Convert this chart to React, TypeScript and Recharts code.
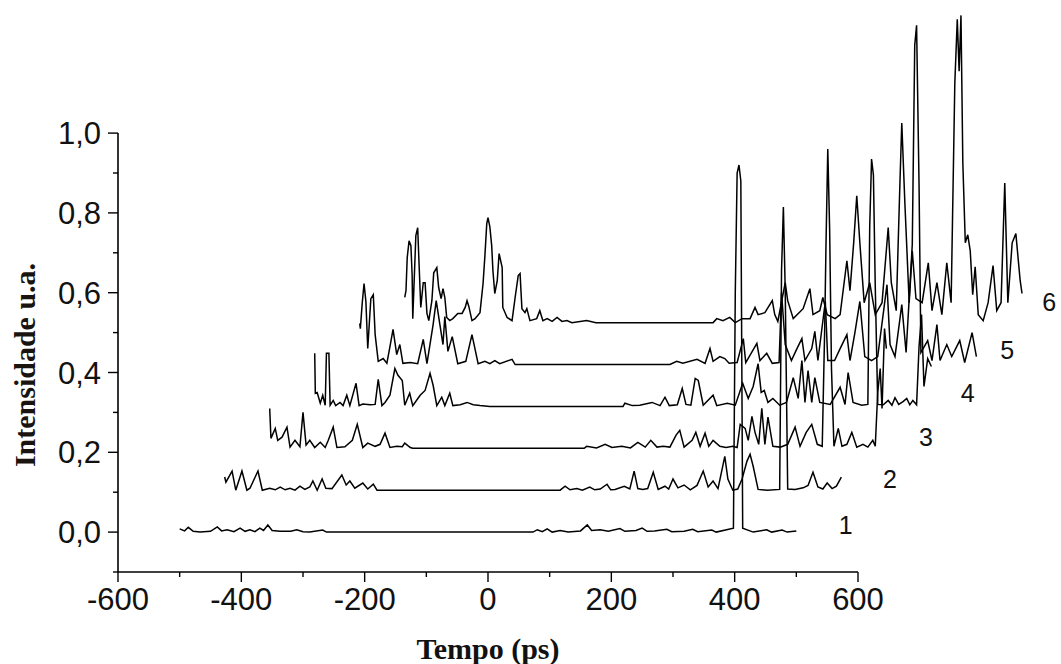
import React from "react";
import { LineChart, Line, XAxis, YAxis, ReferenceLine, ReferenceDot } from "recharts";

type Pt = [number, number];

// each trace: [time (ps), intensity] before the waterfall shift
const trace1: Pt[] = [
  [-500, 0.008], [-492, 0.003], [-486, 0.012], [-478, 0.002], [-467, 0], [-450, 0.002], [-439, 0.013],
  [-432, 0.003], [-423, 0.006], [-412, 0.001], [-402, 0.01], [-394, 0.002], [-386, 0.006], [-378, 0.001],
  [-370, 0.01], [-364, 0.004], [-357, 0.018], [-350, 0.004], [-337, 0.002], [-320, 0.002], [-310, 0.006],
  [-300, 0.001], [-289, 0], [-268, 0.005], [-262, 0], [73, 0], [80, 0.006], [88, 0.001], [96, 0.008],
  [104, 0], [117, 0.004], [130, 0], [150, 0.003], [161, 0.018], [168, 0.004], [182, 0.006], [195, 0.002],
  [214, 0.009], [222, 0.002], [240, 0.004], [250, 0.01], [258, 0.002], [270, 0.003], [290, 0.007],
  [298, 0.001], [318, 0.002], [332, 0.007], [340, 0.001], [363, 0.005], [370, 0], [398, 0.01], [401, 0.6],
  [404, 0.9], [407, 0.92], [410, 0.88], [413, 0.01], [430, 0], [452, 0.006], [460, 0], [477, 0.005],
  [485, 0], [500, 0.003],
];

const trace2: Pt[] = [
  [-500, 0.033], [-498, 0.02], [-488, 0.048], [-482, 0], [-472, 0.048], [-464, 0], [-459, 0.005],
  [-446, 0.048], [-439, 0], [-427, 0.005], [-418, 0.001], [-410, 0.008], [-402, 0.001], [-394, 0.005],
  [-386, 0], [-378, 0.01], [-370, 0.002], [-362, 0.008], [-357, 0.023], [-350, 0], [-342, 0.028],
  [-336, 0.005], [-326, 0.004], [-310, 0.038], [-303, 0.013], [-297, 0.023], [-289, 0.005], [-276, 0.018],
  [-268, 0.003], [-259, 0.015], [-253, 0], [44, 0], [52, 0.01], [60, 0.001], [71, 0.004], [80, 0],
  [92, 0.008], [100, 0.001], [109, 0.003], [120, 0.015], [126, 0.001], [133, 0.002], [148, 0.01],
  [157, 0.003], [164, 0.048], [170, 0.004], [178, 0.002], [186, 0.004], [195, 0.045], [203, 0.002],
  [214, 0.01], [220, 0.003], [227, 0.028], [235, 0.006], [245, 0.013], [255, 0.001], [266, 0.012],
  [276, 0.048], [284, 0.008], [292, 0.023], [300, 0.004], [311, 0.085], [316, 0.028], [324, 0],
  [332, 0.003], [339, 0.028], [347, 0.073], [352, 0.09], [357, 0.06], [365, 0.002], [380, 0], [400, 0.002],
  [403, 0.55], [406, 0.71], [409, 0.5], [413, 0.003], [425, 0.002], [438, 0.006], [446, 0.012],
  [454, 0.045], [462, 0.008], [470, 0.003], [477, 0.018], [485, 0.004], [492, 0.01], [500, 0.033],
];

const trace3: Pt[] = [
  [-500, 0.1], [-498, 0.025], [-491, 0.05], [-487, 0.02], [-480, 0.028], [-472, 0.053], [-467, 0.003],
  [-459, 0.02], [-451, 0.004], [-446, 0.09], [-441, 0.008], [-435, 0.02], [-427, 0.002], [-418, 0.015],
  [-410, 0.002], [-405, 0.02], [-397, 0.053], [-391, 0.002], [-378, 0.004], [-366, 0.02], [-358, 0.06],
  [-349, 0.002], [-341, 0.013], [-329, 0.005], [-321, 0.01], [-313, 0.038], [-305, 0.002], [-294, 0.005],
  [-285, 0.004], [-281, 0.013], [-272, 0.002], [-268, 0], [10, 0], [14, 0.005], [30, 0.001], [44, 0.01],
  [55, 0.002], [71, 0.005], [85, 0.001], [97, 0.015], [109, 0.003], [118, 0.02], [128, 0.003],
  [138, 0.005], [149, 0.003], [159, 0.033], [165, 0.045], [172, 0.003], [185, 0.02], [191, 0.04],
  [198, 0.005], [206, 0.038], [212, 0.005], [219, 0.02], [230, 0.005], [240, 0.002], [251, 0.005],
  [258, 0.002], [263, 0.06], [271, 0.05], [276, 0.02], [282, 0.08], [287, 0.04], [293, 0.01], [298, 0.1],
  [303, 0.01], [308, 0.078], [316, 0.005], [328, 0.003], [340, 0.01], [352, 0.053], [360, 0.005],
  [370, 0.04], [379, 0.06], [388, 0.01], [396, 0.005], [400, 0.3], [402, 0.5], [405, 0.75], [408, 0.55],
  [411, 0.2], [415, 0.005], [422, 0.05], [428, 0.005], [436, 0.01], [444, 0.04], [452, 0.003],
  [462, 0.01], [470, 0.003], [478, 0.02], [482, 0.005], [486, 0.14], [490, 0.2], [493, 0.1], [497, 0.3],
  [500, 0.25],
];

const trace4: Pt[] = [
  [-500, 0.133], [-499, 0.033], [-496, 0.035], [-491, 0.008], [-487, 0.028], [-483, 0.003], [-481, 0.133],
  [-477, 0.133], [-475, 0.003], [-470, 0.015], [-466, 0.002], [-459, 0.01], [-454, 0.002], [-448, 0.028],
  [-443, 0.002], [-433, 0.058], [-428, 0.002], [-422, 0.006], [-410, 0.004], [-402, 0.005], [-397, 0.068],
  [-391, 0.002], [-386, 0.01], [-378, 0.028], [-370, 0.095], [-365, 0.078], [-358, 0.065], [-354, 0.003],
  [-346, 0.033], [-341, 0.002], [-329, 0.028], [-321, 0.04], [-313, 0.083], [-308, 0.053], [-302, 0.002],
  [-294, 0.023], [-289, 0.002], [-281, 0.033], [-276, 0.002], [-264, 0.004], [-253, 0.01], [-243, 0.004],
  [-232, 0.002], [-216, 0], [0, 0], [3, 0.008], [15, 0.002], [27, 0.003], [47, 0.01], [60, 0.002],
  [68, 0.023], [75, 0.002], [88, 0.004], [96, 0.045], [102, 0.005], [110, 0.003], [117, 0.07],
  [122, 0.065], [130, 0.003], [146, 0.028], [152, 0.002], [169, 0.008], [182, 0.003], [194, 0.058],
  [203, 0.02], [211, 0.05], [219, 0.107], [224, 0.035], [229, 0.04], [235, 0.01], [243, 0.02],
  [254, 0.003], [265, 0.01], [276, 0.072], [284, 0.02], [290, 0.115], [295, 0.01], [300, 0.09],
  [306, 0.01], [311, 0.072], [319, 0.01], [336, 0.005], [352, 0.048], [360, 0.005], [365, 0.085],
  [373, 0.01], [387, 0.003], [397, 0.005], [400, 0.45], [403, 0.62], [406, 0.58], [409, 0.3], [413, 0.005],
  [422, 0.004], [430, 0.015], [436, 0.003], [441, 0.022], [447, 0.005], [454, 0.012], [460, 0.02],
  [465, 0.004], [470, 0.015], [476, 0.004], [480, 0.15], [484, 0.23], [488, 0.05], [494, 0.12], [500, 0.1],
];

const trace5: Pt[] = [
  [-500, 0.103], [-499, 0.09], [-496, 0.153], [-493, 0.203], [-490, 0.158], [-487, 0.04], [-482, 0.165],
  [-478, 0.175], [-475, 0.075], [-470, 0.008], [-462, 0.015], [-456, 0.003], [-451, 0.045], [-446, 0.088],
  [-440, 0.025], [-435, 0.05], [-430, 0.003], [-418, 0.005], [-406, 0.002], [-397, 0.063], [-391, 0.002],
  [-381, 0.1], [-376, 0.16], [-370, 0.1], [-365, 0.05], [-362, 0.12], [-357, 0.033], [-350, 0.07],
  [-341, 0.002], [-328, 0.008], [-318, 0.075], [-308, 0.002], [-297, 0.008], [-289, 0.002], [-281, 0.01],
  [-273, 0.002], [-253, 0.013], [-248, 0], [3, 0], [14, 0.008], [24, 0.003], [47, 0.013], [60, 0.003],
  [68, 0.04], [73, 0.008], [84, 0.02], [92, 0.015], [99, 0.003], [112, 0.005], [122, 0.065], [126, 0.005],
  [144, 0.053], [149, 0.01], [160, 0.028], [169, 0.003], [180, 0.005], [184, 0.18], [190, 0.05],
  [200, 0.01], [209, 0.04], [217, 0.065], [222, 0.01], [233, 0.04], [238, 0.083], [243, 0.01],
  [255, 0.158], [259, 0.01], [270, 0.01], [279, 0.04], [290, 0.075], [295, 0.01], [303, 0.08],
  [311, 0.158], [319, 0.02], [330, 0.01], [340, 0.02], [355, 0.2], [360, 0.05], [368, 0.02], [379, 0.15],
  [386, 0.03], [396, 0.3], [400, 0.8], [403, 0.85], [407, 0.45], [410, 0.03], [421, 0.06], [428, 0.01],
  [436, 0.1], [441, 0.01], [452, 0.05], [460, 0.02], [473, 0.06], [481, 0.005], [493, 0.08], [500, 0.02],
];

const trace6: Pt[] = [
  [-500, 0.063], [-498, 0.08], [-496, 0.163], [-493, 0.205], [-490, 0.193], [-488, 0.118], [-487, 0.01],
  [-482, 0.218], [-479, 0.238], [-477, 0.155], [-474, 0.038], [-470, 0.1], [-467, 0.1], [-464, 0.023],
  [-461, 0.005], [-456, 0.055], [-453, 0.125], [-448, 0.138], [-445, 0.088], [-441, 0.06], [-438, 0.085],
  [-435, 0.063], [-432, 0.013], [-427, 0.005], [-422, 0.01], [-414, 0.023], [-407, 0.023], [-402, 0.038],
  [-399, 0.055], [-396, 0.04], [-391, 0.005], [-386, 0.01], [-378, 0.025], [-373, 0.098], [-370, 0.168],
  [-367, 0.248], [-365, 0.263], [-362, 0.24], [-359, 0.193], [-357, 0.13], [-354, 0.073], [-350, 0.105],
  [-347, 0.173], [-342, 0.138], [-341, 0.038], [-334, 0.013], [-326, 0.005], [-321, 0.063], [-316, 0.118],
  [-313, 0.123], [-310, 0.035], [-305, 0.025], [-302, 0.035], [-297, 0.005], [-286, 0.01], [-281, 0.03],
  [-276, 0.005], [-269, 0.01], [-261, 0.003], [-253, 0.013], [-245, 0.003], [-237, 0.005], [-229, 0],
  [-205, 0.005], [-190, 0], [0, 0], [6, 0.01], [16, 0.005], [27, 0.013], [36, 0], [47, 0.01], [60, 0.01],
  [68, 0.038], [73, 0.02], [84, 0.025], [96, 0.055], [100, 0.02], [105, 0.003], [117, 0.1], [121, 0.055],
  [130, 0.01], [146, 0.035], [157, 0.085], [162, 0.02], [173, 0.03], [178, 0.063], [185, 0.02],
  [198, 0.01], [206, 0.02], [217, 0.155], [222, 0.08], [228, 0.2], [233, 0.318], [238, 0.2], [245, 0.05],
  [254, 0.1], [263, 0.02], [274, 0.05], [284, 0.238], [289, 0.1], [297, 0.03], [303, 0.35], [306, 0.5],
  [311, 0.3], [318, 0.05], [323, 0.18], [329, 0.06], [339, 0.05], [349, 0.15], [355, 0.03], [363, 0.1],
  [371, 0.02], [379, 0.15], [386, 0.05], [392, 0.6], [396, 0.76], [399, 0.63], [402, 0.77], [405, 0.4],
  [409, 0.2], [413, 0.22], [417, 0.18], [421, 0.07], [425, 0.14], [430, 0.02], [438, 0.005], [446, 0.05],
  [454, 0.143], [460, 0.03], [467, 0.05], [473, 0.35], [478, 0.05], [485, 0.2], [491, 0.223], [498, 0.105],
  [501, 0.073],
];

const traces = [trace1, trace2, trace3, trace4, trace5, trace6];
const xShift = [0, 73, 146, 219, 292, 365];
const yShift = [0, 0.105, 0.21, 0.315, 0.42, 0.525];
const traceNames = ["1", "2", "3", "4", "5", "6"];
const nameAt: Pt[] = [[580, 0.018], [652, 0.133], [710, 0.238], [778, 0.348], [842, 0.456], [910, 0.576]];

const xMajor = [-600, -400, -200, 0, 200, 400, 600];
const xMinor = [-500, -300, -100, 100, 300, 500];
const yMajor = [0, 0.2, 0.4, 0.6, 0.8, 1.0];
const yMinor = [-0.1, 0.1, 0.3, 0.5, 0.7, 0.9];

const X_DOMAIN: [number, number] = [-600, 920];
const Y_DOMAIN: [number, number] = [-0.1, 1.3];

const SANS = "'Liberation Sans', Arial, sans-serif";
const SERIF = "'Liberation Serif', 'Times New Roman', serif";

const XTick = (props: any) => {
  const { x, y, payload } = props;
  const major = xMajor.includes(payload.value);
  return (
    <g>
      <line x1={x} y1={y} x2={x} y2={y + (major ? 10 : 5)} stroke="#000" strokeWidth={1.4} />
      {major && (
        <text x={x} y={y + 38} textAnchor="middle" fontSize={31} fontFamily={SANS} fill="#111">
          {payload.value}
        </text>
      )}
    </g>
  );
};

const YTick = (props: any) => {
  const { x, y, payload } = props;
  const major = yMajor.includes(payload.value);
  return (
    <g>
      <line x1={x} y1={y} x2={x - (major ? 10 : 5)} y2={y} stroke="#000" strokeWidth={1.4} />
      {major && (
        <text x={x - 17} y={y} dy="0.36em" textAnchor="end" fontSize={31} fontFamily={SANS} fill="#111">
          {payload.value.toFixed(1).replace(".", ",")}
        </text>
      )}
    </g>
  );
};

const XTitle = (props: any) => {
  const vb = props.viewBox;
  const cx = vb.x + (vb.width * (0 - X_DOMAIN[0])) / (X_DOMAIN[1] - X_DOMAIN[0]);
  return (
    <text x={cx} y={659} textAnchor="middle" fontSize={30} fontWeight="bold" fontFamily={SERIF} fill="#111">
      Tempo (ps)
    </text>
  );
};

const YTitle = () => (
  <text
    x={24}
    y={365}
    transform="rotate(-90 24 365)"
    textAnchor="middle"
    dy="0.35em"
    fontSize={30}
    fontWeight="bold"
    fontFamily={SERIF}
    fill="#1a1410"
  >
    Intensidade u.a.
  </text>
);

export default function App() {
  const xTicks = [...xMajor, ...xMinor].sort((a, b) => a - b);
  const yTicks = [...yMajor, ...yMinor].sort((a, b) => a - b);
  return (
    <div style={{ position: "absolute", left: 0, top: 0, width: 1061, height: 664, background: "#fff" }}>
      <LineChart width={1061} height={664} margin={{ top: 13.4, right: 5.67, bottom: 0, left: 58 }}>
        <XAxis
          type="number"
          dataKey="x"
          domain={X_DOMAIN}
          ticks={xTicks}
          interval={0}
          tick={<XTick />}
          tickSize={0}
          tickMargin={0}
          tickLine={false}
          axisLine={false}
          height={92}
          label={{ content: <XTitle /> }}
        />
        <YAxis
          type="number"
          domain={Y_DOMAIN}
          ticks={yTicks}
          interval={0}
          tick={<YTick />}
          tickSize={0}
          tickMargin={0}
          tickLine={false}
          axisLine={false}
          width={60}
          label={{ content: <YTitle /> }}
        />
        <ReferenceLine segment={[{ x: -600, y: -0.1 }, { x: 600, y: -0.1 }]} stroke="#000" strokeWidth={1.6} />
        <ReferenceLine segment={[{ x: -600, y: -0.1 }, { x: -600, y: 1.0 }]} stroke="#000" strokeWidth={1.6} />
        {traces.map((tr, i) => (
          <Line
            key={i}
            data={tr.map(([t, v]) => ({ x: t + xShift[i], y: v + yShift[i] }))}
            dataKey="y"
            type="linear"
            stroke="#000"
            strokeWidth={1.5}
            dot={false}
            activeDot={false}
            isAnimationActive={false}
          />
        ))}
        {traceNames.map((n, i) => (
          <ReferenceDot
            key={n}
            x={nameAt[i][0]}
            y={nameAt[i][1]}
            r={0}
            fill="none"
            stroke="none"
            ifOverflow="visible"
            label={{ value: n, position: "center", fontSize: 25, fill: "#111", fontFamily: SANS }}
          />
        ))}
      </LineChart>
    </div>
  );
}
